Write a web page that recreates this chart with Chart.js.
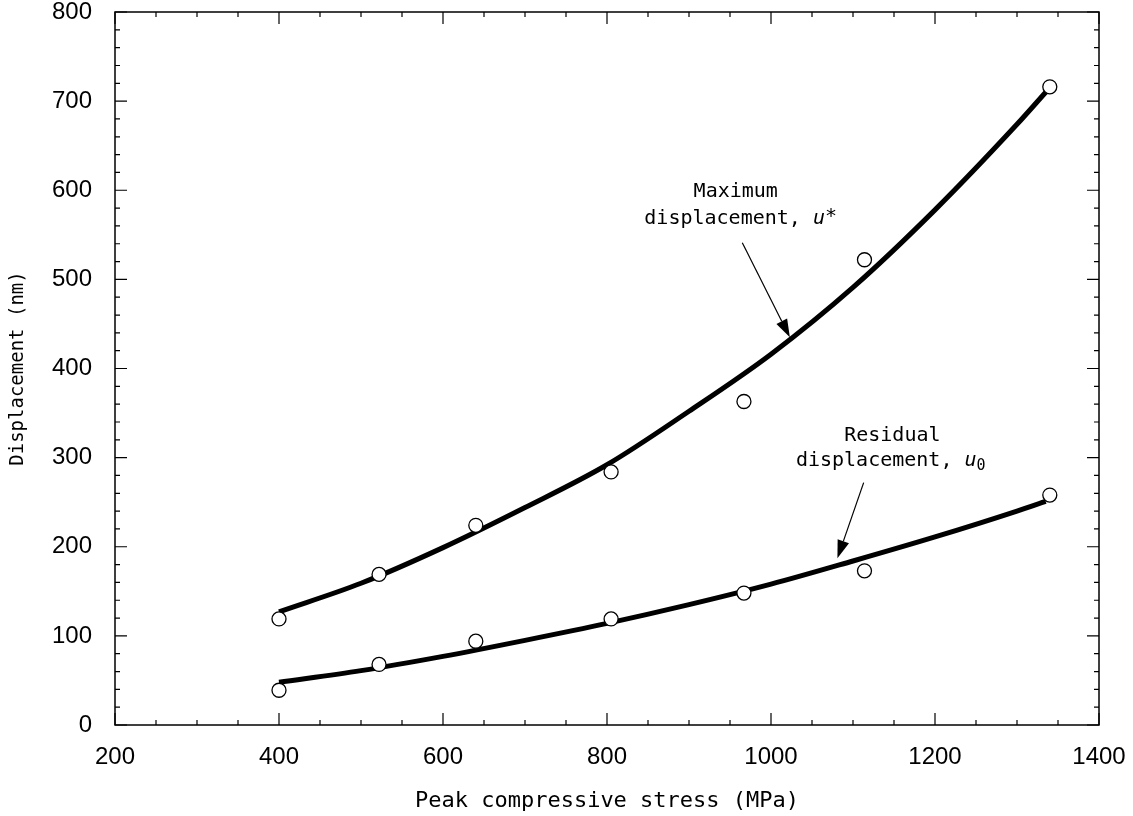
<!DOCTYPE html>
<html>
<head>
<meta charset="utf-8">
<script src="https://cdn.jsdelivr.net/npm/chart.js@4"></script>
<style>body{margin:0;background:#fff}</style>
</head>
<body>
<canvas id="chart" width="1133" height="816"></canvas>
<script>
// measured points (open circles)
const stress = [400, 522, 640, 805, 967, 1114, 1340];
const maxMeasured = [119, 169, 224, 284, 363, 522, 716];
const resMeasured = [39, 68, 94, 119, 148, 173, 258];

// fitted curves
const fitStress = [400, 500, 600, 700, 800, 900, 1000, 1100, 1200, 1300, 1335];
const maxFit = [127, 159, 199, 244, 292, 352, 416, 491, 578, 674, 710];
const resFit = [48, 61, 77, 95, 114, 135, 158, 184, 211, 240, 251];

const xMin = 200, xMax = 1400, xStep = 200, xMinor = 50;
const yMin = 0, yMax = 800, yStep = 100, yMinor = 20;

const toXY = (xs, ys) => xs.map((v, i) => ({x: v, y: ys[i]}));

const letterFont = '"DejaVu Sans Mono", monospace';
const numFont = '"Liberation Sans", Arial, sans-serif';

const frameTicks = {
  id: 'frameTicks',
  afterDatasetsDraw(chart) {
    const {ctx, chartArea: a, scales: {x, y}} = chart;
    ctx.save();
    ctx.strokeStyle = '#000';
    ctx.lineWidth = 1.5;
    ctx.strokeRect(a.left, a.top, a.right - a.left, a.bottom - a.top);
    ctx.lineWidth = 1.2;
    ctx.beginPath();
    for (let v = xMin; v <= xMax; v += xMinor) {
      const px = x.getPixelForValue(v);
      const len = v % xStep === 0 ? 12 : 5;
      ctx.moveTo(px, a.bottom); ctx.lineTo(px, a.bottom - len);
      ctx.moveTo(px, a.top); ctx.lineTo(px, a.top + len);
    }
    for (let v = yMin; v <= yMax; v += yMinor) {
      const py = y.getPixelForValue(v);
      const len = v % yStep === 0 ? 12 : 5;
      ctx.moveTo(a.left, py); ctx.lineTo(a.left + len, py);
      ctx.moveTo(a.right, py); ctx.lineTo(a.right - len, py);
    }
    ctx.stroke();
    ctx.restore();
  }
};

function arrow(ctx, x1, y1, x2, y2) {
  const ang = Math.atan2(y2 - y1, x2 - x1);
  const hl = 18, hw = 6;
  const bx = x2 - hl * Math.cos(ang), by = y2 - hl * Math.sin(ang);
  ctx.beginPath();
  ctx.moveTo(x1, y1); ctx.lineTo(bx, by);
  ctx.stroke();
  ctx.beginPath();
  ctx.moveTo(x2, y2);
  ctx.lineTo(bx + hw * Math.sin(ang), by - hw * Math.cos(ang));
  ctx.lineTo(bx - hw * Math.sin(ang), by + hw * Math.cos(ang));
  ctx.closePath();
  ctx.fill();
}

function labelLine(ctx, cx, py, plain, sym, sub) {
  ctx.font = '20px ' + letterFont;
  const w1 = ctx.measureText(plain).width;
  ctx.font = 'italic 20px ' + letterFont;
  const w2 = ctx.measureText(sym).width;
  ctx.font = (sub === '*' ? '20px ' : '15px ') + letterFont;
  const w3 = ctx.measureText(sub).width;
  let px = cx - (w1 + w2 + w3) / 2;
  ctx.font = '20px ' + letterFont;
  ctx.fillText(plain, px, py);
  px += w1;
  ctx.font = 'italic 20px ' + letterFont;
  ctx.fillText(sym, px, py);
  px += w2;
  if (sub === '*') {
    ctx.font = '20px ' + letterFont;
    ctx.fillText(sub, px, py - 2);
  } else {
    ctx.font = '15px ' + letterFont;
    ctx.fillText(sub, px, py + 6);
  }
}

const notes = {
  id: 'notes',
  afterDraw(chart) {
    const {ctx, scales: {x, y}} = chart;
    ctx.save();
    ctx.fillStyle = '#000';
    ctx.strokeStyle = '#000';
    ctx.lineWidth = 1.2;
    ctx.textBaseline = 'middle';
    ctx.textAlign = 'center';
    ctx.font = '20px ' + letterFont;
    ctx.fillText('Maximum', x.getPixelForValue(957), y.getPixelForValue(598));
    ctx.textAlign = 'left';
    labelLine(ctx, x.getPixelForValue(963), y.getPixelForValue(568), 'displacement, ', 'u', '*');
    arrow(ctx, x.getPixelForValue(965), y.getPixelForValue(541), x.getPixelForValue(1023), y.getPixelForValue(435));

    ctx.textAlign = 'center';
    ctx.font = '20px ' + letterFont;
    ctx.fillText('Residual', x.getPixelForValue(1148), y.getPixelForValue(324));
    ctx.textAlign = 'left';
    labelLine(ctx, x.getPixelForValue(1146), y.getPixelForValue(297), 'displacement, ', 'u', '0');
    arrow(ctx, x.getPixelForValue(1113), y.getPixelForValue(272), x.getPixelForValue(1081), y.getPixelForValue(187));
    ctx.restore();
  }
};

const pointStyle = {
  type: 'scatter', showLine: false, pointRadius: 7, pointHoverRadius: 7,
  pointBackgroundColor: '#fff', pointBorderColor: '#000', pointBorderWidth: 1.3
};
const lineStyle = {
  type: 'line', borderColor: '#000', borderWidth: 5, pointRadius: 0,
  fill: false, cubicInterpolationMode: 'monotone', borderCapStyle: 'butt'
};

new Chart(document.getElementById('chart'), {
  data: {
    datasets: [
      {...pointStyle, label: 'Maximum measured', data: toXY(stress, maxMeasured)},
      {...pointStyle, label: 'Residual measured', data: toXY(stress, resMeasured)},
      {...lineStyle, label: 'Maximum displacement', data: toXY(fitStress, maxFit)},
      {...lineStyle, label: 'Residual displacement', data: toXY(fitStress, resFit)}
    ]
  },
  options: {
    responsive: false,
    animation: false,
    layout: {padding: {left: 0, top: 12, right: 34, bottom: 0}},
    plugins: {legend: {display: false}, tooltip: {enabled: false}},
    scales: {
      x: {
        type: 'linear', min: xMin, max: xMax,
        grid: {display: false, drawTicks: false},
        border: {display: false},
        ticks: {stepSize: xStep, autoSkip: false, maxRotation: 0, padding: 18, color: '#000',
                font: {family: numFont, size: 24}, callback: v => String(v)},
        title: {display: true, text: 'Peak compressive stress (MPa)', color: '#000',
                font: {family: letterFont, size: 22}, padding: {top: 0, bottom: 2}},
        afterFit(scale) { scale.height = 91; scale.paddingLeft = 0; scale.paddingRight = 0; }
      },
      y: {
        type: 'linear', min: yMin, max: yMax,
        grid: {display: false, drawTicks: false},
        border: {display: false},
        ticks: {stepSize: yStep, padding: 23, color: '#000',
                font: {family: numFont, size: 24}, callback: v => String(v)},
        title: {display: true, text: 'Displacement (nm)', color: '#000',
                font: {family: letterFont, size: 19}, padding: {top: 7, bottom: 0}},
        afterFit(scale) { scale.width = 115; scale.paddingTop = 0; scale.paddingBottom = 0; }
      }
    }
  },
  plugins: [frameTicks, notes]
});
</script>
</body>
</html>
